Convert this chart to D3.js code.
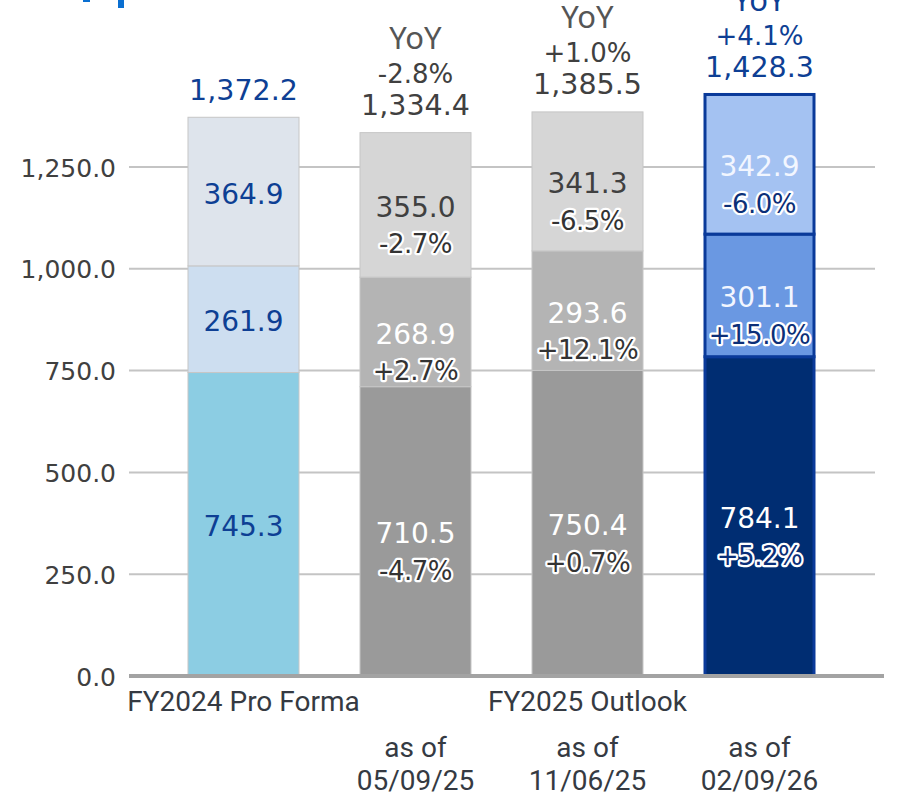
<!DOCTYPE html>
<html>
<head>
<meta charset="utf-8">
<script src="https://cdn.jsdelivr.net/npm/d3@7"></script>
<style>
  html, body { margin: 0; padding: 0; background: #fff; }
  svg { display: block; }
</style>
</head>
<body>
<div id="chart"></div>
<script>
// values
var barKeys = ["pro", "may", "nov", "feb"];
var bottomVals = [745.3, 710.5, 750.4, 784.1];
var midVals = [261.9, 268.9, 293.6, 301.1];
var topVals = [364.9, 355.0, 341.3, 342.9];
var totals = [1372.2, 1334.4, 1385.5, 1428.3];
var totalYoY = [null, "-2.8%", "+1.0%", "+4.1%"];
var bottomYoY = [null, "-4.7%", "+0.7%", "+5.2%"];
var midYoY = [null, "+2.7%", "+12.1%", "+15.0%"];
var topYoY = [null, "-2.7%", "-6.5%", "-6.0%"];
var yTicks = [0, 250, 500, 750, 1000, 1250];
var groupLabels = ["FY2024 Pro Forma", null, "FY2025 Outlook", null];
var asOfDates = [null, "05/09/25", "11/06/25", "02/09/26"];

var W = 902, H = 797;
var navy = "#0e3f94", dark = "#404040";

var svg = d3.select("#chart").append("svg")
    .attr("width", W).attr("height", H);

var x = d3.scaleBand().domain(barKeys).range([157.5, 845.5])
    .paddingInner(60 / 172).paddingOuter(30 / 172);
var y = d3.scaleLinear().domain([0, 1250]).range([676, 167]);

// title remnant cut off at the top
svg.append("rect").attr("x", 83).attr("y", 0).attr("width", 7).attr("height", 2).attr("fill", "#0a6fd1");
svg.append("rect").attr("x", 118).attr("y", 0).attr("width", 6).attr("height", 8).attr("fill", "#0a6fd1");

// grid
svg.append("g").selectAll("line").data(yTicks.filter(function(d){ return d > 0; }))
    .enter().append("line")
    .attr("x1", 129).attr("x2", 875)
    .attr("y1", function(d){ return y(d); }).attr("y2", function(d){ return y(d); })
    .attr("stroke", "#c4c4c4").attr("stroke-width", 2);

// y axis labels
var yAxis = d3.axisLeft(y).tickValues(yTicks).tickFormat(d3.format(",.1f")).tickSize(0).tickPadding(0);
var ya = svg.append("g").attr("transform", "translate(116,0)").call(yAxis);
ya.select(".domain").remove();
ya.selectAll("text")
    .attr("font-family", "'DejaVu Sans', Verdana, sans-serif")
    .attr("font-size", 25).attr("fill", dark).attr("dy", "0.36em");

var rows = barKeys.map(function(k, i){
  return { key: k, i: i, bottom: bottomVals[i], mid: midVals[i], top: topVals[i] };
});
var series = d3.stack().keys(["bottom", "mid", "top"])(rows);

var fills = {
  bottom: ["#8ccde3", "#9a9a9a", "#9a9a9a", "#002d72"],
  mid:    ["#cddef0", "#b4b4b4", "#b4b4b4", "#6a98e2"],
  top:    ["#dee4ec", "#d6d6d6", "#d6d6d6", "#a4c2f2"]
};
var yoy = { bottom: bottomYoY, mid: midYoY, top: topYoY };
var valColor = {
  bottom: [navy, "#ffffff", "#ffffff", "#ffffff"],
  mid:    [navy, "#ffffff", "#ffffff", "#f2f6ff"],
  top:    [navy, dark, dark, "#f2f6ff"]
};

var numFont = "'DejaVu Sans', Verdana, sans-serif";

series.forEach(function(s){
  var key = s.key;
  var g = svg.append("g");
  g.selectAll("rect").data(s).enter().append("rect")
    .attr("x", function(d){ return x(d.data.key) + (d.data.i === 3 ? 1.5 : 0.5); })
    .attr("width", function(d){ return x.bandwidth() - (d.data.i === 3 ? 3 : 1); })
    .attr("y", function(d){ return y(d[1]); })
    .attr("height", function(d){ return y(d[0]) - y(d[1]); })
    .attr("fill", function(d){ return fills[key][d.data.i]; })
    .attr("stroke", function(d){ return d.data.i === 3 ? "#0a3a9a" : "#c6c6c6"; })
    .attr("stroke-width", function(d){ return d.data.i === 3 ? 3 : 1; });

  g.selectAll("text.val").data(s).enter().append("text")
    .attr("class", "val")
    .attr("x", function(d){ return x(d.data.key) + x.bandwidth() / 2; })
    .attr("y", function(d){ return (y(d[0]) + y(d[1])) / 2 + 2; })
    .attr("text-anchor", "middle").attr("dy", "0.36em")
    .attr("font-family", numFont).attr("font-size", 28)
    .attr("fill", function(d){ return valColor[key][d.data.i]; })
    .text(function(d){ return d.data[key].toFixed(1); });

  g.selectAll("text.pct").data(s.filter(function(d){ return yoy[key][d.data.i]; })).enter().append("text")
    .attr("class", "pct")
    .attr("x", function(d){ return x(d.data.key) + x.bandwidth() / 2; })
    .attr("y", function(d){ return (y(d[0]) + y(d[1])) / 2 + 39; })
    .attr("text-anchor", "middle").attr("dy", "0.36em")
    .attr("font-family", numFont).attr("font-size", 26).attr("letter-spacing", -0.5)
    .attr("fill", function(d){ return d.data.i === 3 ? "#0b2f78" : "#333333"; })
    .attr("stroke", "#fff").attr("stroke-width", 4.5).attr("stroke-linejoin", "round")
    .attr("paint-order", "stroke")
    .text(function(d){ return yoy[key][d.data.i]; });
});

// baseline
svg.append("line").attr("x1", 129).attr("x2", 884)
    .attr("y1", y(0)).attr("y2", y(0))
    .attr("stroke", "#a3a3a3").attr("stroke-width", 4);

// totals + YoY above bars
var topG = svg.append("g");
barKeys.forEach(function(k, i){
  var cx = x(k) + x.bandwidth() / 2;
  var ty = y(series[2][i][1]) - 28;
  var col = (i === 0 || i === 3) ? navy : dark;
  topG.append("text").attr("x", cx).attr("y", ty).attr("dy", "0.36em")
    .attr("text-anchor", "middle").attr("font-family", numFont).attr("font-size", 28.5)
    .attr("fill", col).attr("stroke", "#fff").attr("stroke-width", 4)
    .attr("stroke-linejoin", "round").attr("paint-order", "stroke")
    .text(d3.format(",.1f")(totals[i]));
  if (totalYoY[i]) {
    topG.append("text").attr("x", cx).attr("y", ty - 31).attr("dy", "0.36em")
      .attr("text-anchor", "middle").attr("font-family", numFont).attr("font-size", 26)
      .attr("fill", col).attr("stroke", "#fff").attr("stroke-width", 4)
      .attr("stroke-linejoin", "round").attr("paint-order", "stroke")
      .text(totalYoY[i]);
    topG.append("text").attr("x", cx).attr("y", ty - 67).attr("dy", "0.36em")
      .attr("text-anchor", "middle").attr("font-family", "'Noto Sans', sans-serif").attr("font-size", 31)
      .attr("fill", i === 3 ? navy : "#555555")
      .text("YoY");
  }
});

// category labels
var catFont = "Roboto, 'Noto Sans', sans-serif";
var catG = svg.append("g").attr("font-family", catFont).attr("font-size", 28).attr("fill", "#353a42")
    .attr("text-anchor", "middle");
barKeys.forEach(function(k, i){
  var cx = x(k) + x.bandwidth() / 2;
  if (groupLabels[i]) catG.append("text").attr("x", cx).attr("y", 711).text(groupLabels[i]);
  if (asOfDates[i]) {
    catG.append("text").attr("x", cx).attr("y", 757).text("as of");
    catG.append("text").attr("x", cx).attr("y", 790).text(asOfDates[i]);
  }
});
</script>
</body>
</html>
